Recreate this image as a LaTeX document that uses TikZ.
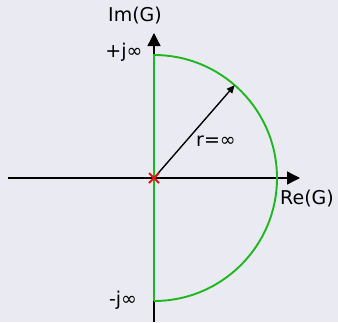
\documentclass[tikz,border=0pt]{standalone}
\usepackage{fontspec}
\setmainfont{DejaVu Sans}
\usetikzlibrary{arrows.meta,calc}
\definecolor{bgpane}{RGB}{234,234,242}
\definecolor{arcgreen}{RGB}{30,184,30}
\definecolor{polered}{RGB}{228,20,20}

\begin{document}
\begin{tikzpicture}[
      x=1pt, y=-1pt,
      font=\fontsize{19}{21}\selectfont,
      axis/.style  = {-{Triangle[length=13pt,width=13pt]}, line width=1.3pt},
      contour/.style = {arcgreen, line width=1.9pt},
      ray/.style   = {-{Triangle[length=8pt,width=7pt]}, line width=1.4pt},
      lbl/.style   = {inner sep=0pt},
    ]
    \fill[bgpane] (0,0) rectangle (338,322);
    \useasboundingbox (0,0) rectangle (338,322);

    \coordinate (O) at (154,178);
    \coordinate (xl) at (8,178);
    \coordinate (xr) at (300,178);
    \coordinate (yb) at (154,322);
    \coordinate (yt) at (154,33);
    \coordinate (top) at (154,55);
    \coordinate (bot) at (154,301);
    \coordinate (rtip) at ($(O)+(-49:123)$);

    % axes
    \draw[axis] (xl) -- (xr);
    \draw[axis] (yb) -- (yt);

    % contour: imaginary axis + infinite half circle
    \draw[contour] (bot) -- (top) arc[start angle=90, end angle=-90, radius=123pt];

    \draw[ray] (O) -- (rtip);

    % pole at the origin
    \draw[polered, line width=1.8pt] ($(O)+(-5,-5)$) -- ($(O)+(5,5)$)
                                     ($(O)+(-5,5)$) -- ($(O)+(5,-5)$);

    \node[lbl] (im)  at (135,16)  {Im(G)};
    \node[lbl] (re)  at (307,199) {Re(G)};
    \node[lbl] (pj)  at (124,52)  {+j∞};
    \node[lbl] (mj)  at (123,300) {-j∞};
    \node[lbl] (rl)  at (216,141) {r=∞};
  \end{tikzpicture}
\end{document}
